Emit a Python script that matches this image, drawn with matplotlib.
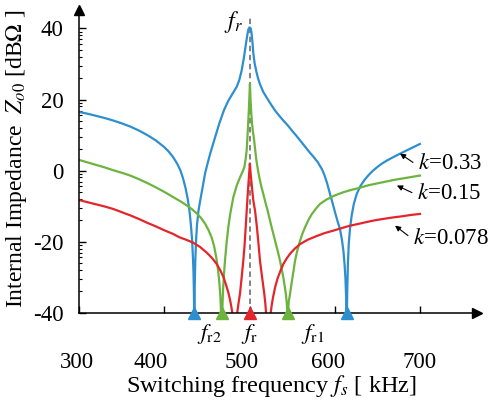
import matplotlib
matplotlib.use('Agg')
import numpy as np
import matplotlib.pyplot as plt
from matplotlib.ticker import FixedLocator
from matplotlib.transforms import ScaledTranslation

# ---------------------------------------------------------
# data (f [kHz], Z [dB ohm])
# -80 marks the bottom of a notch (clipped by the axis)
# ---------------------------------------------------------
F_R = 500.0

blue_f = [300, 310, 320, 330, 340, 350, 360, 370, 380, 390, 400, 405, 410, 415, 419, 422, 425,
          427.5, 429.5, 431.3, 432.6, 433.7, 434.3, 434.8, 435.0,
          435.2,
          435.4, 435.7, 436.3, 437.2, 438.3, 440, 442, 444, 446, 448, 451, 454, 457, 460, 465,
          470, 475, 480, 485, 488, 490.8, 493, 494.5, 496, 497.5, 498.8, 500,
          501.5, 502.5, 503.5, 504.5, 506, 508.4, 510, 512.3, 516, 520, 525, 530, 535, 540,
          545, 550, 555, 560, 565, 570, 575, 580, 585, 588, 591, 594.5, 598, 601, 604, 606.2,
          608.5, 610.3, 611.6, 612.6, 613.3, 613.7,
          614,
          614.3, 614.8, 615.5, 616.5, 618, 620, 622.5, 625.8, 630, 635, 640, 645, 650, 655,
          661, 668, 677, 688, 700]
blue_z = [16.5, 16.0, 15.4, 14.8, 14.1, 13.3, 12.4, 11.3, 10.0, 8.5, 6.6, 5.4, 3.9, 2.0, 0.0, -2.2, -5.0,
          -8.0, -11.2, -15.5, -19.5, -25.0, -29.0, -35.0, -40.0,
          -80,
          -40, -33, -26, -20, -15.5, -11.5, -8.6, -6.0, -3.3, -0.6, 2.2, 4.9, 7.3, 9.7, 13.6,
          17.0, 19.6, 21.6, 23.6, 25.5, 28.2, 31.2, 33.5, 36.0, 38.3, 39.8, 40.3,
          40.0, 38.5, 36.0, 33.0, 30.2, 27.5, 26.0, 24.3, 22.2, 20.6, 18.7, 16.9, 15.4, 14.0,
          12.7, 11.2, 9.8, 8.3, 6.8, 5.3, 3.9, 2.4, 0.4, -1.3, -3.5, -6.6, -9.6, -12.3, -14.8, -16.5,
          -19.5, -22.8, -26.5, -30.5, -35.0, -40,
          -80,
          -40, -33, -26, -20.5, -16.2, -12.5, -9.3, -6.6, -4.4, -2.6, -1.2, 0.0, 1.0, 1.9,
          2.8, 3.7, 4.8, 6.1, 7.5]

green_f = [300, 310, 320, 330, 340, 350, 360, 370, 380, 390, 400, 410, 420, 430, 437, 443, 448, 452,
           455.5, 458.5, 461, 463, 464.6, 465.8, 466.6,
           467.3,
           468, 468.7, 469.8, 471.2, 473, 475.1, 477.5, 481, 485, 488.9, 492, 494, 495.5, 496.7,
           497.7, 498.6, 499.4, 500, 500.5, 501.2, 502, 503, 504, 505.3, 506.5, 508, 510, 512, 514,
           516.2, 518.5, 521, 523.5, 526, 528.5, 531, 533.5, 535.8, 538, 540, 541.6, 542.8, 543.8,
           544.4,
           544.8,
           545.2, 546, 547.5, 549.5, 551.5, 553.4, 556, 559, 562, 565.1, 569, 573, 578, 582.7,
           590, 600, 610, 620, 630, 640, 650, 660, 670, 680, 690, 700]
green_z = [3.0, 2.3, 1.6, 0.9, 0.1, -0.6, -1.4, -2.4, -3.5, -4.7, -6.0, -7.4, -8.8, -10.4, -11.8, -13.3, -15.0, -16.8,
           -18.8, -21.3, -24.5, -27.8, -31.5, -35.5, -40,
           -80,
           -40, -35, -30, -25.4, -20.5, -16, -12, -7.5, -4.2, -1.9, -0.2, 1.0, 3.3, 5.8,
           10.0, 14.1, 18.0, 21.5, 24.5, 20.0, 16.5, 13.2, 11.0, 8.8, 6.2, 3.0, 0.0, -2.5, -4.6,
           -6.6, -8.8, -11.0, -13.5, -16.0, -18.3, -20.7, -23.0, -25.4, -28.0, -30.5, -33.0, -35.0, -37.5,
           -40,
           -80,
           -40, -37, -34.8, -31.5, -28.5, -25.4, -22.6, -20.0, -17.8, -16.0, -14.0, -12.3, -10.7, -9.4,
           -8.2, -7.0, -6.1, -5.4, -4.8, -4.1, -3.6, -3.1, -2.6, -2.2, -1.8, -1.4]

red_f = [300, 310, 320, 330, 340, 350, 360, 370, 380, 390, 400, 410, 418, 426, 434, 442, 449.8,
         456, 461.5, 466, 469.5, 472.5, 475, 477, 478.6, 479.8,
         482.7,
         485.6, 487, 488.9, 490.8, 492.7, 494.2, 495.5, 496.7, 497.8, 498.8, 499.7, 500.4,
         501.2, 502.2, 503.2, 504.5, 506.5, 508.5, 510.5, 512.3, 514.5, 517.4, 518.6, 519.4,
         522,
         524.9, 526, 527.5, 530, 533, 536.5, 539.7, 544, 548, 553, 559.3, 568, 578, 588, 598.4,
         608, 618, 628, 637, 647, 657, 668, 678, 689, 700]
red_z = [-8.3, -8.9, -9.5, -10.1, -10.8, -11.7, -12.6, -13.6, -14.7, -15.7, -16.8, -17.8, -18.8, -19.5, -20.3, -21.5, -23.1,
         -24.6, -26.3, -28.2, -30.0, -32.2, -34.2, -36.2, -38.2, -40,
         -80,
         -40, -37.5, -34.5, -30.0, -25.4, -21.0, -16.0, -11.3, -7.0, -3.5, -0.5, 2.0,
         -0.5, -3.0, -5.5, -8.5, -11.3, -15.5, -20.5, -25.4, -29.5, -34.8, -37.5, -40,
         -80,
         -40, -38, -35.8, -32.9, -30.3, -28.1, -26.3, -24.6, -23.3, -22.0, -20.7, -19.5, -18.5, -17.6, -16.9,
         -16.2, -15.5, -15.0, -14.5, -14.0, -13.6, -13.2, -12.9, -12.5, -12.2]

notch_f = [435.2, 614, 467.3, 544.8, F_R]
notch_c = ['blue', 'blue', 'green', 'green', 'red']

x_ticks = [300, 400, 500, 600, 700]
y_ticks = [-40, -20, 0, 20, 40]

COLORS = {'blue': '#2e8fd0', 'green': '#6db33f', 'red': '#e3262b'}


def plot_impedance():
    plt.rcParams['font.family'] = ['Liberation Serif', 'DejaVu Serif']
    plt.rcParams['mathtext.fontset'] = 'stix'

    fig = plt.figure(figsize=(4.91, 4.07), dpi=100)
    ax = fig.add_axes([0.1611, 0.2317, 0.8104, 0.7437])

    ax.plot(blue_f, blue_z, color=COLORS['blue'], lw=1.6)
    ax.plot(green_f, green_z, color=COLORS['green'], lw=1.6)
    ax.plot(red_f, red_z, color=COLORS['red'], lw=1.6)

    # resonance line
    ax.plot([F_R, F_R], [-40, 43], color='#7a7a7a', lw=1.3, ls=(0, (3, 2)), zorder=1)

    # notch markers on the axis
    for f, c in zip(notch_f, notch_c):
        ax.plot(f, -40, marker='^', ms=8, color=COLORS[c], clip_on=False, zorder=5)

    ax.set_xlim(300, 767)
    ax.set_ylim(-40, 45.2)

    # axes with arrows
    for s in ['top', 'right']:
        ax.spines[s].set_visible(False)
    for s in ['left', 'bottom']:
        ax.spines[s].set_linewidth(1.1)
    ax.plot(1, 0, '>k', ms=7, transform=ax.transAxes, clip_on=False)
    ax.plot(0, 1, '^k', ms=7, transform=ax.transAxes, clip_on=False)

    ax.set_xticks(x_ticks)
    ax.set_xticklabels([str(v) for v in x_ticks], fontsize=16.5)
    ax.tick_params(axis='x', direction='in', length=5, width=1, pad=28)
    # labels in the original sit a bit left of their ticks
    shifts = [-1.7, -10, -6, -5, 0]
    for lab, dx in zip(ax.get_xticklabels(), shifts):
        lab.set_transform(lab.get_transform() + ScaledTranslation(dx / 72, 0, fig.dpi_scale_trans))

    ax.set_yticks(y_ticks)
    ax.set_yticklabels([str(v) for v in y_ticks], fontsize=16.5)
    minor = [b + 20 * np.log10(n) for b in [-40, -20, 0, 20] for n in range(2, 10)]
    ax.yaxis.set_minor_locator(FixedLocator(minor))
    ax.tick_params(axis='y', which='major', direction='in', length=5, width=1, pad=11)
    ax.tick_params(axis='y', which='minor', direction='in', length=2.5, width=0.8)

    # labels
    ax.set_xlabel(r'Switching frequency $f_s$ [ kHz]', fontsize=17.5)
    ax.xaxis.set_label_coords(0.482, -0.2)
    ax.set_ylabel(r'Internal Impedance  $Z_{o0}$ [dB$\Omega$ ]', fontsize=17)
    ax.yaxis.set_label_coords(-0.125, 0.51)

    ax.text(492.5, 41.8, r'$f_r$', fontsize=17, ha='right', va='center')
    ax.text(452.5, -46, r'$f_{\mathrm{r2}}$', fontsize=16.5, ha='center', va='center')
    ax.text(500.6, -46, r'$f_{\mathrm{r}}$', fontsize=16.5, ha='center', va='center')
    ax.text(574.5, -46, r'$f_{\mathrm{r1}}$', fontsize=16.5, ha='center', va='center')

    # k annotations
    arrow = dict(arrowstyle='-|>', color='k', lw=0.8, mutation_scale=8, shrinkA=0, shrinkB=0)
    ax.annotate('', xy=(676.6, 4.8), xytext=(691.8, 2.3), arrowprops=arrow, annotation_clip=False)
    ax.annotate('', xy=(673, -4.2), xytext=(690.7, -6.2), arrowprops=arrow, annotation_clip=False)
    ax.annotate('', xy=(670.8, -15.5), xytext=(686, -18.3), arrowprops=arrow, annotation_clip=False)
    ax.text(697.8, 2.0, r'$k$=0.33', fontsize=16.5, ha='left', va='center')
    ax.text(696.6, -6.5, r'$k$=0.15', fontsize=16.5, ha='left', va='center')
    ax.text(692, -19.2, r'$k$=0.078', fontsize=16.5, ha='left', va='center')

    fig.savefig('out.png', dpi=100)


if __name__ == "__main__":
    plot_impedance()
